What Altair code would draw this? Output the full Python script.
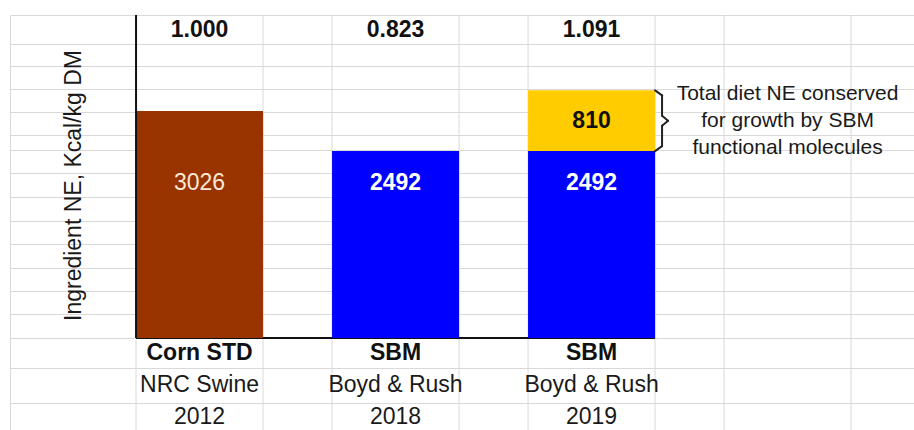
import altair as alt
import pandas as pd

# Ingredient net energy (NE, kcal/kg DM) by ingredient and source
INGREDIENTS = ["Corn STD", "SBM", "SBM"]
SOURCES = ["NRC Swine", "Boyd & Rush", "Boyd & Rush"]
YEARS = ["2012", "2018", "2019"]
BASE_NE = [3026, 2492, 2492]
CONSERVED_NE = [0, 0, 810]
RELATIVE_NE = ["1.000", "0.823", "1.091"]   # total NE relative to corn
PARTS = ["corn", "sbm", "sbm"]

NOTE_LINES = ["Total diet NE conserved", "for growth by SBM", "functional molecules"]
Y_TITLE = "Ingredient NE, Kcal/kg DM"

# worksheet row boundaries, expressed in NE units
ROW_LINES = [3920, 3627, 3320, 3013, 2707, 2507, 2200, 1880, 1560, 1253,
             933, 627, 320, 0, -400, -867]
Y_MIN, Y_MAX = -1227, 4307
VALUE_ROW = 2067          # level of the in-bar value labels
SPARE = " "               # empty worksheet column right of the bars

FONT = "Liberation Sans"
GRID = "#d9d9d9"
HALF = 63.5               # half of the bar width in pixels
NOTE_LINE_HEIGHT = 27
PART_COLORS = {"corn": "#993300", "sbm": "#0000ff", "conserved": "#ffcc00"}

X_SCALE = alt.Scale(domain=YEARS + [SPARE], paddingInner=0.352,
                    paddingOuter=0.482, align=0.667, round=False)
Y_SCALE = alt.Scale(domain=[Y_MIN, Y_MAX], nice=False, zero=False)
Y_AXIS = alt.Axis(title=Y_TITLE, values=ROW_LINES, grid=True, gridColor=GRID,
                  gridWidth=1, labels=False, ticks=False, domain=False,
                  titleFont=FONT, titleFontSize=23, titleFontWeight="normal",
                  titleColor="#1a1a1a", titleAngle=270, titleX=70, titleY=170,
                  titleAlign="center", titleBaseline="alphabetic")


def xpos(field="year"):
    return alt.X(f"{field}:N", scale=X_SCALE, axis=None)


def ypos(field):
    return alt.Y(f"{field}:Q", scale=Y_SCALE, axis=Y_AXIS)


# bar segments
seg_rows = []
for yr, base, extra, part in zip(YEARS, BASE_NE, CONSERVED_NE, PARTS):
    seg_rows.append({"year": yr, "lo": 0, "hi": base, "part": part})
    if extra > 0:
        seg_rows.append({"year": yr, "lo": base, "hi": base + extra, "part": "conserved"})
segs = pd.DataFrame(seg_rows)

# totals relative to corn, shown in the top row
totals = pd.DataFrame({"year": YEARS, "ratio": RELATIVE_NE})
totals["row"] = (Y_MAX + ROW_LINES[0]) / 2

labels = pd.DataFrame({
    "year": YEARS, "ingredient": INGREDIENTS, "source": SOURCES,
    "base": BASE_NE, "part": PARTS,
})
labels["value_row"] = VALUE_ROW
labels["row1"] = (0 + ROW_LINES[-2]) / 2
labels["row2"] = (ROW_LINES[-2] + ROW_LINES[-1]) / 2
labels["row3"] = (ROW_LINES[-1] + Y_MIN) / 2

extra_rows = []
for yr, base, extra in zip(YEARS, BASE_NE, CONSERVED_NE):
    if extra > 0:
        extra_rows.append({"year": yr, "lo": base, "hi": base + extra,
                           "mid": base + extra / 2, "extra": extra})
extra_df = pd.DataFrame(extra_rows)
note_df = pd.DataFrame({"year": [SPARE], "mid": extra_df["mid"].tolist()})

cols = pd.DataFrame({"year": YEARS + [SPARE], "y0": Y_MIN, "y1": Y_MAX})
frame = pd.DataFrame({"year": [YEARS[0]], "last": [YEARS[-1]], "zero": [0], "top": [Y_MAX]})

layers = []

# worksheet column lines at the band edges
for off in (-HALF, HALF):
    layers.append(
        alt.Chart(cols).mark_rule(color=GRID, strokeWidth=1, xOffset=off, x2Offset=off)
        .encode(x=xpos(), y=ypos("y0"), y2="y1")
    )

# category baseline
layers.append(
    alt.Chart(frame).mark_rule(color="#111111", strokeWidth=2, xOffset=-HALF, x2Offset=HALF)
    .encode(x=xpos(), x2=alt.X2("last:N"), y=ypos("zero"))
)

# bars
layers.append(
    alt.Chart(segs).mark_bar()
    .encode(
        x=xpos(), y=ypos("lo"), y2="hi",
        color=alt.Color("part:N", legend=None,
                        scale=alt.Scale(domain=list(PART_COLORS), range=list(PART_COLORS.values()))),
    )
)

# value axis line
layers.append(
    alt.Chart(frame).mark_rule(color="#111111", strokeWidth=2, xOffset=-HALF, x2Offset=-HALF)
    .encode(x=xpos(), y=ypos("zero"), y2="top")
)

# curly brace beside the conserved segment
BRACE = [
    (HALF, "hi", 0, HALF + 7, "hi", 5),
    (HALF + 7, "hi", 5, HALF + 7, "mid", -5),
    (HALF + 7, "mid", -5, HALF + 13, "mid", 0),
    (HALF + 13, "mid", 0, HALF + 7, "mid", 5),
    (HALF + 7, "mid", 5, HALF + 7, "lo", -5),
    (HALF + 7, "lo", -5, HALF, "lo", 0),
]
for x_off, y_f, y_off, x2_off, y2_f, y2_off in BRACE:
    layers.append(
        alt.Chart(extra_df).mark_rule(color="#222222", strokeWidth=2, strokeCap="round",
                                      xOffset=x_off, x2Offset=x2_off,
                                      yOffset=y_off, y2Offset=y2_off)
        .encode(x=xpos(), x2=alt.X2("year:N"), y=ypos(y_f), y2=alt.Y2(f"{y2_f}:Q"))
    )

# ratios in the top row
layers.append(
    alt.Chart(totals).mark_text(font=FONT, fontSize=23, fontWeight="bold",
                                color="#111111", baseline="middle")
    .encode(x=xpos(), y=ypos("row"), text="ratio:N")
)

# values inside the bars
layers.append(
    alt.Chart(labels).transform_filter(alt.datum.part == "corn")
    .mark_text(font=FONT, fontSize=23, color="#fbe9d6", baseline="middle")
    .encode(x=xpos(), y=ypos("value_row"), text="base:Q")
)
layers.append(
    alt.Chart(labels).transform_filter(alt.datum.part == "sbm")
    .mark_text(font=FONT, fontSize=23, fontWeight="bold", color="#ffffff", baseline="middle")
    .encode(x=xpos(), y=ypos("value_row"), text="base:Q")
)
layers.append(
    alt.Chart(extra_df).mark_text(font=FONT, fontSize=23, fontWeight="bold",
                                  color="#111111", baseline="middle")
    .encode(x=xpos(), y=ypos("mid"), text="extra:Q")
)

# category rows under the baseline
layers.append(
    alt.Chart(labels).mark_text(font=FONT, fontSize=23, fontWeight="bold",
                                color="#111111", baseline="middle")
    .encode(x=xpos(), y=ypos("row1"), text="ingredient:N")
)
for field in ("source", "year"):
    row = "row2" if field == "source" else "row3"
    layers.append(
        alt.Chart(labels).mark_text(font=FONT, fontSize=23, color="#1a1a1a", baseline="middle")
        .encode(x=xpos(), y=ypos(row), text=f"{field}:N")
    )

# note beside the brace, block centred on the brace tip
layers.append(
    alt.Chart(note_df).mark_text(font=FONT, fontSize=21, color="#1a1a1a", baseline="middle",
                                 lineHeight=NOTE_LINE_HEIGHT, text=NOTE_LINES,
                                 dy=-NOTE_LINE_HEIGHT * (len(NOTE_LINES) - 1) / 2)
    .encode(x=xpos(), y=ypos("mid"))
)

chart = (
    alt.layer(*layers)
    .properties(width=904, height=415,
                autosize=alt.AutoSizeParams(type="none"),
                padding={"left": 10, "top": 15, "right": 0, "bottom": 0},
                background="white")
    .configure_view(stroke=GRID, strokeWidth=1)
)

chart.save("out.html", embed_options={"renderer": "svg", "actions": False})
